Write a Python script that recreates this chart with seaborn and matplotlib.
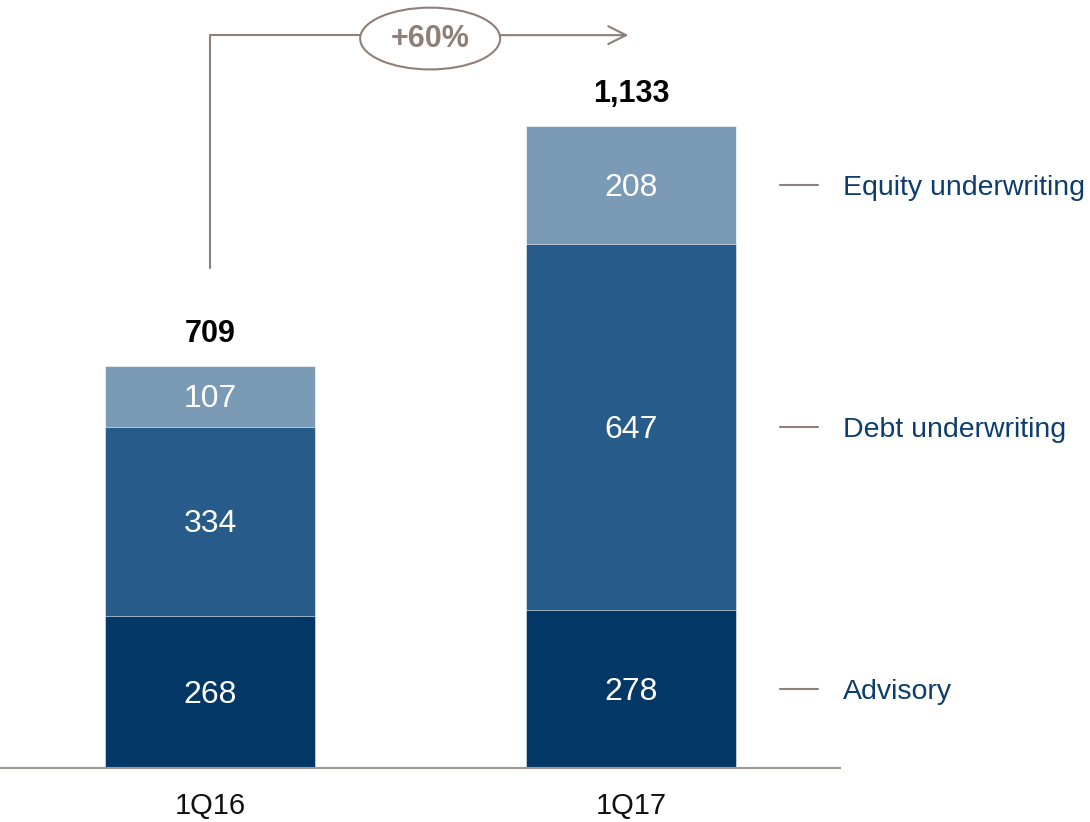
import pandas as pd
import matplotlib.pyplot as plt
import seaborn as sns
import numpy as np
from matplotlib.patches import Ellipse

quarters = ["1Q16", "1Q17"]
segments = ["Advisory", "Debt underwriting", "Equity underwriting"]
advisory = [268, 278]
debt = [334, 647]
equity = [107, 208]
totals = [709, 1133]

colors = {"Advisory": "#033866", "Debt underwriting": "#275b89", "Equity underwriting": "#7a9ab6"}
grey = "#8c8078"
label_blue = "#0d3d6e"

sns.set_style("white")
plt.rcParams['font.family'] = ['Liberation Sans', 'DejaVu Sans']

df = pd.DataFrame({"quarter": quarters, "Advisory": advisory,
                   "Debt underwriting": debt, "Equity underwriting": equity})
stack = df[segments].cumsum(axis=1)

fig = plt.figure(figsize=(10.9, 8.22), dpi=100)
ax = fig.add_axes([0, 54 / 822, 840 / 1090, 768 / 822])

# draw tallest cumulative first so lower segments sit on top
for seg in reversed(segments):
    sns.barplot(x=df["quarter"], y=stack[seg], color=colors[seg], width=0.5,
                saturation=1, edgecolor="white", linewidth=0.4, ax=ax)

ax.set_xlim(-0.499, 1.496)
ax.set_ylim(0, 1355)
ax.set_yticks([])
ax.set_xlabel("")
ax.set_ylabel("")
for s in ["top", "right", "left"]:
    ax.spines[s].set_visible(False)
ax.spines["bottom"].set_color("#a09890")
ax.spines["bottom"].set_linewidth(1.5)
ax.tick_params(axis="x", length=0, labelsize=21, pad=17)
for t in ax.get_xticklabels():
    t.set_color("#111111")

# segment values
for i in range(len(quarters)):
    bottom = 0
    for seg in segments:
        v = df[seg][i]
        ax.text(i, bottom + v / 2 - 5, f"{v}", ha="center", va="center",
                color="white", fontsize=23)
        bottom += v
    ax.text(i, totals[i] + 56, f"{totals[i]:,}", ha="center", va="center",
            color="black", fontsize=22, fontweight="bold")

# right-hand labels at 1Q17 segment middles
bottom = 0
for seg in segments:
    v = df[seg][1]
    mid = bottom + v / 2
    ax.plot([1.354, 1.444], [mid, mid], color=grey, lw=1.5, clip_on=False)
    ax.text(1.504, mid - 5, seg, ha="left", va="center", color=label_blue,
            fontsize=20.5, clip_on=False)
    bottom += v

# growth arrow
growth = totals[1] / totals[0] - 1
y_top = max(totals) + 160
ax.plot([0, 0, 0.5], [totals[0] + 173, y_top, y_top], color=grey, lw=1.5,
        clip_on=False)
ax.annotate("", xy=(1.0, y_top), xytext=(0.5, y_top),
            arrowprops=dict(arrowstyle="->", color=grey, lw=1.5,
                            mutation_scale=32), annotation_clip=False)
ax.add_patch(Ellipse((0.5226, y_top - 6), 0.3325, 109, facecolor="white",
                     edgecolor=grey, lw=1.5, clip_on=False, zorder=5))
ax.text(0.5226, y_top - 6, f"+{growth * 100:.0f}%", ha="center", va="center",
        color=grey, fontsize=22, fontweight="bold", zorder=6)

fig.savefig("out.png", dpi=100)
